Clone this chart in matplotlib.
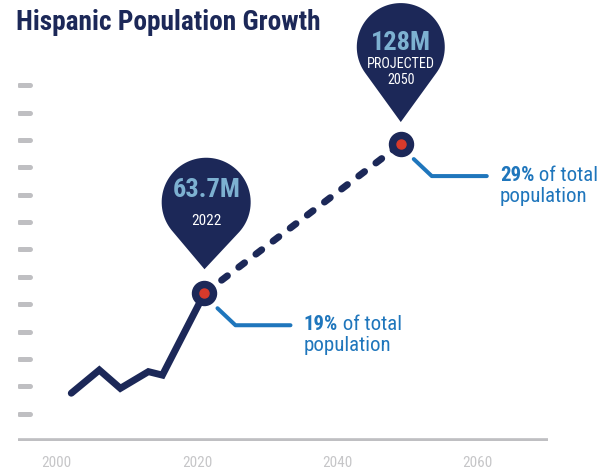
import numpy as np
import matplotlib
matplotlib.use('Agg')
import matplotlib.pyplot as plt
from matplotlib import font_manager
from matplotlib.path import Path
from matplotlib.patches import PathPatch
from matplotlib.transforms import Affine2D, ScaledTranslation

# data
hist_years = [2003, 2007, 2010, 2014, 2016, 2022]
hist_pop = [20.6, 30.6, 22.7, 29.9, 28.4, 63.7]
proj_years = [2022, 2050]
proj_pop = [63.7, 128]
share_labels = ['19%', '29%']
pin_values = ['63.7M', '128M']
pin_subtitles = ['2022', 'PROJECTED\n2050']
xtick_years = [2000, 2020, 2040, 2060]
ytick_vals = np.arange(1, 14) * 11.8

navy = '#1c2858'
red = '#d83a2b'
blue = '#1f76bc'
lightblue = '#7db1d1'
gray = '#bfbfc2'
labelgray = '#c6c6c8'

names = {f.name for f in font_manager.fontManager.ttflist}
fam = ['Roboto Condensed', 'Liberation Sans Narrow', 'Roboto']
fam = [f for f in fam if f in names] + ['DejaVu Sans']
plt.rcParams['font.family'] = fam

fig = plt.figure(figsize=(6.15, 4.72), dpi=100)
ax = fig.add_axes([18 / 615, 31 / 472, 530 / 615, 431 / 472])
ax.set_xlim(1995.4, 2071)
ax.set_ylim(0, 185.8)
for s in ax.spines.values():
    s.set_visible(False)

# baseline and the little grey dashes on the left
ax.axhline(0, color=gray, lw=4.8, solid_capstyle='round', zorder=1)
ax.set_yticks(ytick_vals)
ax.set_yticklabels([])
ax.tick_params(axis='y', length=0)
ax.hlines(ytick_vals, 1995.4 + 1.5 / 7.014, 1995.4 + 12.5 / 7.014, color=gray,
          lw=3.6, capstyle='round', zorder=1)

ax.set_xticks(xtick_years)
ax.set_xticklabels([str(y) for y in xtick_years], color=labelgray, fontsize=11)
ax.tick_params(axis='x', length=0, pad=11)
shift = ScaledTranslation(6.5 / 100, 0, fig.dpi_scale_trans)
for lab in ax.get_xticklabels():
    lab.set_transform(lab.get_transform() + shift)

ax.plot(hist_years, hist_pop, color=navy, lw=5, solid_capstyle='round',
        solid_joinstyle='miter', zorder=3)
ax.plot(proj_years, proj_pop, color=navy, lw=5, dashes=(1.05, 2.05),
        dash_capstyle='round', zorder=3)


def px_trans(x, y):
    return Affine2D() + ScaledTranslation(x, y, ax.transData)


def pin(x, y, dx, cy, r, tip):
    d = cy - tip
    th = np.degrees(np.arccos(r / d))
    a = np.radians(np.linspace(-90 + th, 270 - th, 80))
    verts = [(dx + r * np.cos(t), cy + r * np.sin(t)) for t in a]
    verts.append((0, tip))
    verts.append(verts[0])
    codes = [Path.MOVETO] + [Path.LINETO] * (len(verts) - 2) + [Path.CLOSEPOLY]
    ax.add_patch(PathPatch(Path(verts, codes), facecolor=navy, edgecolor='none',
                           transform=px_trans(x, y), clip_on=False, zorder=4))


pin(proj_years[0], proj_pop[0], 1.7, 91, 44.5, 24)
pin(proj_years[1], proj_pop[1], 0, 97, 44, 22)

pt = 0.72  # px -> pt
ax.annotate(pin_values[0], (proj_years[0], proj_pop[0]), xytext=(2 * pt, 103 * pt),
            textcoords='offset points', ha='center', va='center', fontsize=19,
            fontweight='bold', color=lightblue, zorder=5)
ax.annotate(pin_subtitles[0], (proj_years[0], proj_pop[0]), xytext=(2 * pt, 72 * pt),
            textcoords='offset points', ha='center', va='center', fontsize=11,
            color='white', zorder=5)
ax.annotate(pin_values[1], (proj_years[1], proj_pop[1]), xytext=(0, 101 * pt),
            textcoords='offset points', ha='center', va='center', fontsize=19,
            fontweight='bold', color=lightblue, zorder=5)
ax.annotate(pin_subtitles[1], (proj_years[1], proj_pop[1]), xytext=(0, 72 * pt),
            textcoords='offset points', ha='center', va='center', fontsize=10.2,
            color='white', linespacing=1.2, zorder=5)

for xx, yy, share in zip(proj_years, proj_pop, share_labels):
    ax.plot([xx], [yy], 'o', ms=17.3, color=navy, zorder=6)
    ax.plot([xx], [yy], 'o', ms=6.5, color=red, zorder=7)
    ax.plot([13, 31, 86], [-15, -32, -32], color=blue, lw=2.9,
            solid_capstyle='round', transform=px_trans(xx, yy), zorder=3)
    t1 = ax.annotate(share, (xx, yy), xytext=(99 * pt, -31 * pt),
                     textcoords='offset points', ha='left', va='center',
                     fontsize=15, fontweight='bold', color=blue)
    ax.annotate(' of total', xy=(1, 0), xycoords=t1, ha='left', va='bottom',
                fontsize=15, color=blue)
    ax.annotate('population', (xx, yy), xytext=(99 * pt, -52 * pt),
                textcoords='offset points', ha='left', va='center',
                fontsize=15, color=blue)

fig.text(16 / 615, 1 - 23 / 472, 'Hispanic Population Growth', ha='left',
         va='center', fontsize=19.7, fontweight='bold', color=navy)

fig.savefig('out.png', dpi=100)
